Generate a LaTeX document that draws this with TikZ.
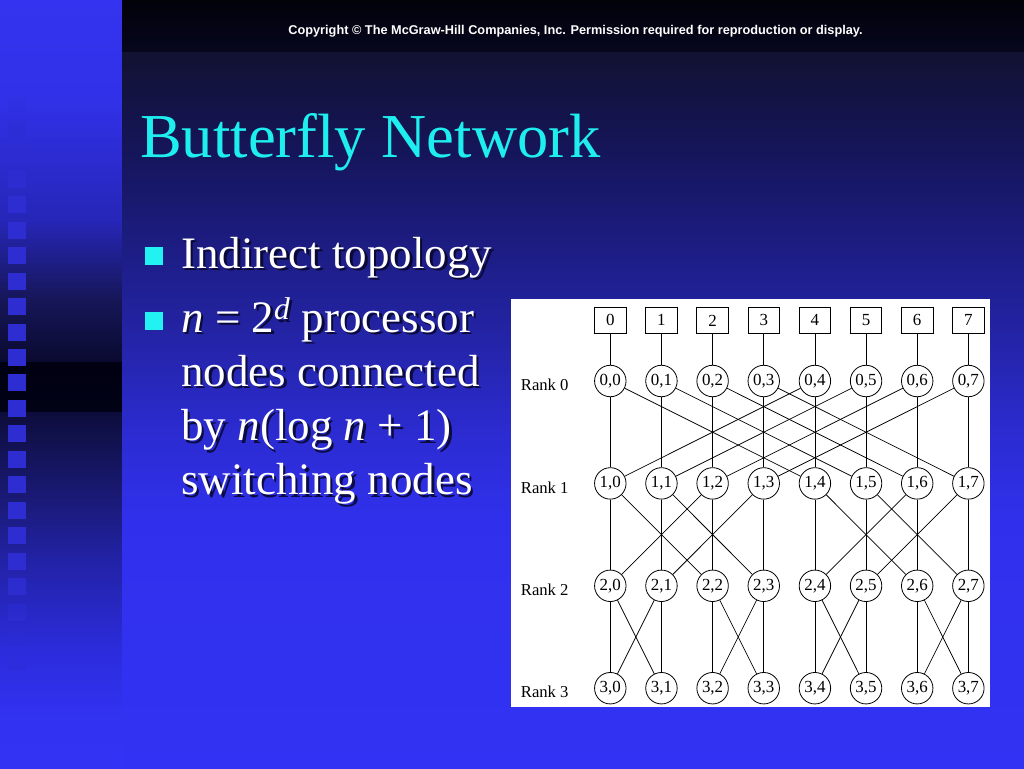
\documentclass[tikz,border=0pt]{standalone}
\usepackage{fontspec}
\setmainfont{Liberation Serif}
\newfontfamily\copyfont{Liberation Sans}
\usetikzlibrary{positioning, calc}

\definecolor{TitleCyan}{HTML}{1EEEEE}
\definecolor{BulletCyan}{HTML}{22F2F2}
\definecolor{ShadowNavy}{HTML}{04041E}
\definecolor{TileBlue}{HTML}{2D2DD2}
% left strip
\definecolor{LS0}{HTML}{3434F0}
\definecolor{LS1}{HTML}{3131E8}
\definecolor{LS2}{HTML}{2626B8}
\definecolor{LS3}{HTML}{161658}
\definecolor{LS4}{HTML}{0A0A30}
\definecolor{LS5}{HTML}{000012}
\definecolor{LS6}{HTML}{020216}
\definecolor{LS7}{HTML}{0D0D3C}
\definecolor{LS8}{HTML}{1A1A78}
\definecolor{LS9}{HTML}{2222A6}
\definecolor{LS10}{HTML}{2C2CDC}
\definecolor{LS11}{HTML}{3232F2}
\definecolor{LS12}{HTML}{3333F4}
% main area
\definecolor{MB0}{HTML}{02020A}
\definecolor{MB1}{HTML}{06061E}
\definecolor{MS0}{HTML}{121232}
\definecolor{MS1}{HTML}{15155A}
\definecolor{MS2}{HTML}{1C1C80}
\definecolor{MS3}{HTML}{2424A8}
\definecolor{MS4}{HTML}{2C2CD4}
\definecolor{MS5}{HTML}{3030EC}
\definecolor{MS6}{HTML}{3232F4}

\begin{document}
\begin{tikzpicture}[x=0.75pt, y=-0.75pt,
    switch/.style={circle, draw, line width=0.6pt, minimum size=23.6pt, inner sep=0pt,
      font=\fontsize{12.7}{14}\selectfont},
    proc/.style={rectangle, draw, line width=0.6pt, minimum width=23.6pt, minimum height=19.5pt,
      inner sep=0pt, font=\fontsize{12.7}{14}\selectfont},
    ranklab/.style={inner sep=0pt, font=\fontsize{12.5}{14}\selectfont},
    link/.style={line width=0.55pt},
    bodytext/.style={text=white, inner sep=0pt, align=left, font=\fontsize{33.75}{40.7}\selectfont},
    shadowtext/.style={bodytext, text=ShadowNavy, opacity=0.8},
  ]
  \useasboundingbox (0,0) rectangle (1024,768);

  % Background
  \foreach \ya/\yb/\ca/\cb in {0/100/LS0/LS1, 100/220/LS1/LS2, 220/300/LS2/LS3, 300/362/LS3/LS4,
      362/412/LS5/LS6, 412/500/LS7/LS8, 500/560/LS8/LS9, 560/650/LS9/LS10, 650/720/LS10/LS11,
      720/768/LS11/LS12}
    \shade[top color=\ca, bottom color=\cb] (0,\ya) rectangle (122.5,\yb);
  \shade[top color=MB0, bottom color=MB1] (122,0) rectangle (1024,52);
  \foreach \ya/\yb/\ca/\cb in {52/150/MS0/MS1, 150/240/MS1/MS2, 240/340/MS2/MS3, 340/440/MS3/MS4,
      440/520/MS4/MS5, 520/768/MS5/MS6}
    \shade[top color=\ca, bottom color=\cb] (122,\ya) rectangle (1024,\yb);

  % Tiles along the left edge
  \foreach \k in {0,...,22} {
    \pgfmathsetmacro\ty{94.5+25.45*\k}
    \pgfmathsetmacro\op{min(1,0.15+0.25*min(\k,22-\k))}
    \fill[TileBlue, opacity=\op] (8.3,\ty) rectangle ++(17.3,17);
  }

  % Header and title
  \node[anchor=base, inner sep=0pt, text=white, font=\copyfont\bfseries\fontsize{9.55}{11}\selectfont] (copy) at (575.5,34)
    {Copyright \textcopyright{} The McGraw-Hill Companies, Inc. Permission required for reproduction or display.};
  \node[anchor=base west, inner sep=0pt, text=TitleCyan, font=\fontsize{46.9}{56}\selectfont] (title) at (140,157) {Butterfly Network};

  % Bullets (base of the second one is its last line)
  \fill[BulletCyan] (145,247) rectangle (163,265);
  \fill[BulletCyan] (145,312) rectangle (163,330);
  \node[shadowtext, anchor=base west] (b1s) at (183.5,270.5) {Indirect topology};
  \node[bodytext, anchor=base west] (b1) at (181,268) {Indirect topology};
  \node[shadowtext, anchor=base west] (b2s) at (183.5,497.3)
    {\textit{n} = 2\textsuperscript{\textit{d}} processor\\nodes connected\\by \textit{n}(log \textit{n} + 1)\\switching nodes};
  \node[bodytext, anchor=base west] (b2) at (181,494.8)
    {\textit{n} = 2\textsuperscript{\textit{d}} processor\\nodes connected\\by \textit{n}(log \textit{n} + 1)\\switching nodes};

  % Butterfly network
  \fill[white] (511,299) rectangle (990,707);
  \foreach \r in {0,...,3}
    \foreach \i in {0,...,7}
      \node[switch] (s\r-\i) at ({610.3+51.15*\i},{381+102.4*\r}) {\r,\i};
  \foreach \i in {0,...,7} {
    \node[proc, above=23.3pt of s0-\i] (p\i) {\i};
    \draw[link] (p\i) -- (s0-\i);
  }
  \foreach \r in {0,...,3}
    \node[ranklab, left=19pt of s\r-0, yshift=-3pt] (rank\r) {Rank \r};

  \foreach \r/\b in {0/4,1/2,2/1} {
    \pgfmathtruncatemacro\nr{\r+1}
    \foreach \i in {0,...,7} {
      \pgfmathtruncatemacro\j{mod(floor(\i/\b),2)==0 ? \i+\b : \i-\b}
      \draw[link] (s\r-\i) -- (s\nr-\i);
      \draw[link] (s\r-\i) -- (s\nr-\j);
    }
  }
\end{tikzpicture}
\end{document}
